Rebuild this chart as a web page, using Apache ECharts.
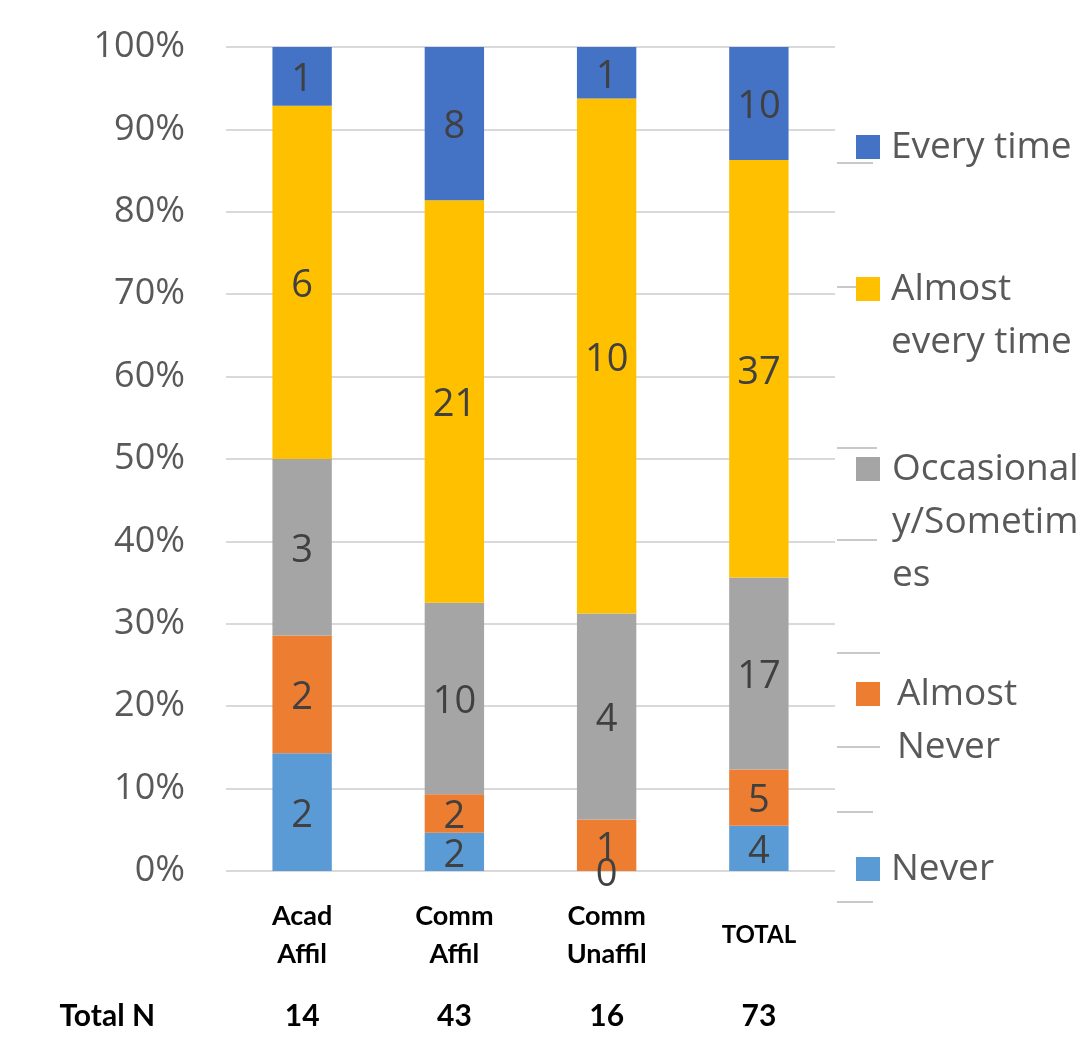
<!DOCTYPE html>
<html>
<head>
<meta charset="utf-8">
<style>
  html, body { margin: 0; padding: 0; background: #ffffff; }
  #chart { width: 1081px; height: 1040px; }
</style>
<script src="https://cdn.jsdelivr.net/npm/echarts@6/dist/echarts.min.js"></script>
</head>
<body>
<div id="chart"></div>
<script>
// Respondent counts per group, one array per answer
const categories = ['Acad\nAffil', 'Comm\nAffil', 'Comm\nUnaffil', 'TOTAL'];
const seriesNames = ['Never', 'Almost Never', 'Occasionally/Sometimes', 'Almost every time', 'Every time'];
const never = [2, 2, 0, 4];
const almostNever = [2, 2, 1, 5];
const occasionally = [3, 10, 4, 17];
const almostEveryTime = [6, 21, 10, 37];
const everyTime = [1, 8, 1, 10];
const seriesColors = ['#5B9BD5', '#ED7D31', '#A5A5A5', '#FFC000', '#4472C4'];
// Legend text as it wraps in the narrow legend column
const legendLabels = ['Never', 'Almost\nNever', 'Occasional\ny/Sometim\nes', 'Almost\nevery time', 'Every time'];

const counts = [never, almostNever, occasionally, almostEveryTime, everyTime];
const totals = categories.map((_, i) => counts.reduce((s, arr) => s + arr[i], 0));

const BOLD_FONT = "Lato, 'Liberation Sans', sans-serif";
const TEXT_FONT = "'Open Sans', sans-serif";

// Legend layout: icon centre y per item, extra text indent
const legendCentres = [868, 693, 468, 288, 146];
const legendIndent = [6, 12, 7, 6, 6];
const LH = 53;

const legends = seriesNames.map((name, i) => {
  const n = legendLabels[i].split('\n').length;
  const blockLines = 2 * n - 1;
  return {
    data: [name],
    orient: 'vertical',
    left: 856,
    top: legendCentres[i] - blockLines * LH / 2 + 1,
    padding: 0,
    itemWidth: 24,
    itemHeight: 24,
    icon: 'rect',
    selectedMode: false,
    // blank lines above keep the icon beside the first text line
    formatter: () => '\n'.repeat(n - 1) + legendLabels[i],
    textStyle: {
      fontFamily: TEXT_FONT,
      fontSize: 37,
      color: '#595959',
      lineHeight: LH,
      padding: [0, 0, 0, legendIndent[i]]
    }
  };
});

const series = seriesNames.map((name, s) => ({
  name: name,
  type: 'bar',
  stack: 'share',
  barWidth: '39%',
  itemStyle: { color: seriesColors[s] },
  data: counts[s].map((v, i) => v / totals[i] * 100),
  label: {
    show: true,
    position: 'inside',
    offset: [0, 4],
    formatter: p => String(counts[s][p.dataIndex]),
    fontFamily: TEXT_FONT,
    fontSize: 38,
    color: '#404040'
  }
}));

const guideLines = [
  [837, 873, 163], [837, 858, 287], [837, 877, 448], [837, 877, 540],
  [837, 880, 653], [837, 880, 747], [837, 873, 812], [837, 873, 902]
].map(([x1, x2, y]) => ({
  type: 'line',
  shape: { x1: x1, y1: y, x2: x2, y2: y },
  style: { stroke: '#c9c9c9', lineWidth: 2 },
  silent: true
}));

const chart = echarts.init(document.getElementById('chart'), null, { renderer: 'canvas' });
chart.setOption({
  animation: false,
  backgroundColor: '#ffffff',
  grid: { left: 226, right: 246, top: 47, bottom: 169, containLabel: false },
  legend: legends,
  xAxis: [
    {
      type: 'category',
      data: categories,
      axisLine: { show: false },
      axisTick: { show: false },
      axisLabel: {
        interval: 0,
        margin: 64,
        verticalAlign: 'middle',
        fontFamily: BOLD_FONT,
        fontWeight: 'bold',
        fontSize: 27,
        lineHeight: 38,
        color: '#000000',
        formatter: v => v === 'TOTAL' ? '{s|TOTAL}' : v,
        rich: { s: { fontFamily: BOLD_FONT, fontWeight: 'bold', fontSize: 24, color: '#000000' } }
      }
    },
    {
      type: 'category',
      data: categories,
      position: 'bottom',
      offset: 145,
      axisLine: { show: false },
      axisTick: { show: false },
      axisLabel: {
        interval: 0,
        margin: 0,
        verticalAlign: 'middle',
        fontFamily: BOLD_FONT,
        fontWeight: 'bold',
        fontSize: 30,
        color: '#000000',
        formatter: (v, i) => String(totals[i])
      },
      name: 'Total N',
      nameLocation: 'start',
      nameGap: 71,
      nameTextStyle: {
        fontFamily: BOLD_FONT,
        fontWeight: 'bold',
        fontSize: 30,
        color: '#000000',
        verticalAlign: 'middle',
        padding: [0, 0, 10, 0]
      }
    }
  ],
  yAxis: {
    type: 'value',
    min: 0,
    max: 100,
    interval: 10,
    axisLine: { show: false },
    axisTick: { show: false },
    axisLabel: {
      margin: 41,
      formatter: '{value}%',
      fontFamily: TEXT_FONT,
      fontSize: 36,
      color: '#595959'
    },
    splitLine: { lineStyle: { color: '#d9d9d9', width: 2 } }
  },
  graphic: guideLines,
  series: series
});
</script>
</body>
</html>
